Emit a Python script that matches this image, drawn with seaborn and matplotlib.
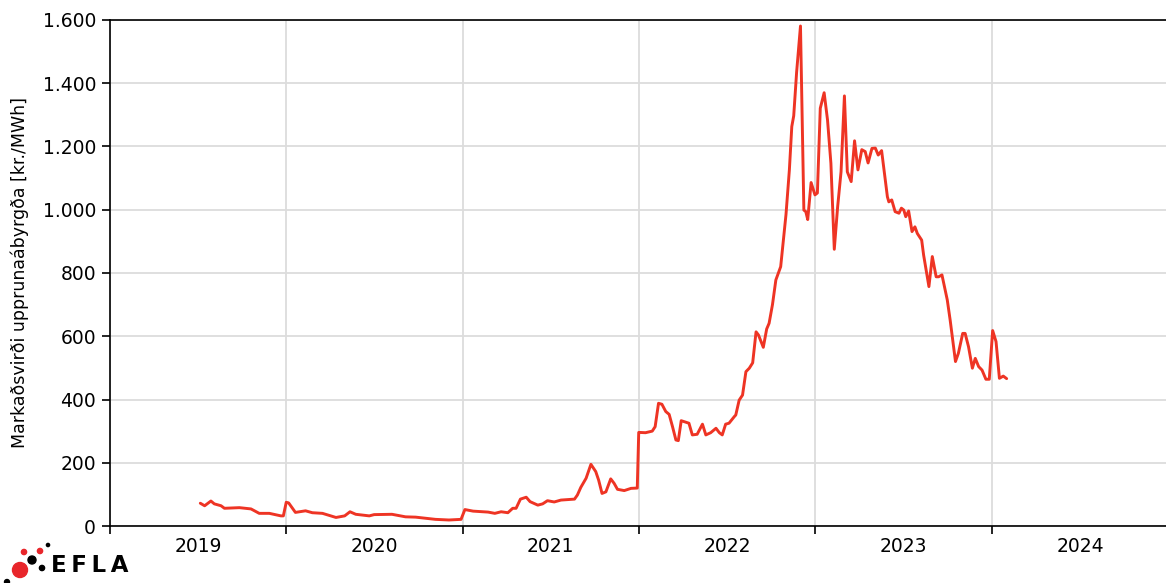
import matplotlib
matplotlib.use("Agg")
import matplotlib.pyplot as plt
import matplotlib.dates as mdates
from matplotlib.ticker import FuncFormatter, NullFormatter
import seaborn as sns
import pandas as pd

dates = [
    "2019-07-07", "2019-07-16", "2019-07-29", "2019-08-05", "2019-08-19", "2019-08-26",
    "2019-09-26", "2019-10-20", "2019-11-06", "2019-11-27", "2019-12-21", "2019-12-26",
    "2020-01-01", "2020-01-06", "2020-01-20", "2020-02-10", "2020-02-24", "2020-03-16",
    "2020-04-13", "2020-05-01", "2020-05-12", "2020-05-24", "2020-06-21", "2020-07-01",
    "2020-08-07", "2020-09-04", "2020-09-25", "2020-11-05", "2020-12-03", "2020-12-28",
    "2021-01-05", "2021-01-22", "2021-02-12", "2021-02-22", "2021-03-08", "2021-03-21",
    "2021-04-04", "2021-04-14", "2021-04-21", "2021-04-30", "2021-05-12", "2021-05-20",
    "2021-06-05", "2021-06-15", "2021-06-25", "2021-07-09", "2021-07-23", "2021-08-20",
    "2021-08-26", "2021-09-02", "2021-09-13", "2021-09-23", "2021-10-03", "2021-10-09",
    "2021-10-16", "2021-10-24", "2021-11-03", "2021-11-10", "2021-11-17", "2021-12-01",
    "2021-12-15", "2021-12-28", "2021-12-31", "2022-01-14", "2022-01-28", "2022-02-03",
    "2022-02-10", "2022-02-17", "2022-02-25", "2022-03-04", "2022-03-11", "2022-03-18",
    "2022-03-23", "2022-03-29", "2022-04-08", "2022-04-14", "2022-04-21", "2022-05-01",
    "2022-05-12", "2022-05-19", "2022-05-29", "2022-06-09", "2022-06-16", "2022-06-22",
    "2022-06-29", "2022-07-06", "2022-07-17", "2022-07-20", "2022-07-27", "2022-08-03",
    "2022-08-10", "2022-08-17", "2022-08-24", "2022-08-31", "2022-09-05", "2022-09-15",
    "2022-09-22", "2022-09-27", "2022-10-04", "2022-10-11", "2022-10-21", "2022-11-01",
    "2022-11-08", "2022-11-13", "2022-11-17", "2022-11-23", "2022-12-01", "2022-12-08",
    "2022-12-12", "2022-12-16", "2022-12-23", "2022-12-31", "2023-01-05", "2023-01-11",
    "2023-01-19", "2023-01-26", "2023-02-02", "2023-02-09", "2023-02-16", "2023-02-23",
    "2023-03-02", "2023-03-08", "2023-03-16", "2023-03-23", "2023-03-30", "2023-04-07",
    "2023-04-14", "2023-04-20", "2023-04-28", "2023-05-05", "2023-05-11", "2023-05-18",
    "2023-05-30", "2023-06-02", "2023-06-08", "2023-06-15", "2023-06-23", "2023-06-28",
    "2023-07-03", "2023-07-07", "2023-07-13", "2023-07-20", "2023-07-26", "2023-07-31",
    "2023-08-09", "2023-08-13", "2023-08-24", "2023-08-31", "2023-09-08", "2023-09-13",
    "2023-09-20", "2023-10-01", "2023-10-07", "2023-10-18", "2023-10-24", "2023-11-02",
    "2023-11-07", "2023-11-14", "2023-11-22", "2023-11-28", "2023-12-05", "2023-12-12",
    "2023-12-20", "2023-12-27", "2024-01-03", "2024-01-10", "2024-01-17", "2024-01-25",
    "2024-02-01",
]

values = [
    72, 64, 79, 70, 64, 56,
    58, 54, 40, 40, 32, 32,
    75, 73, 43, 48, 42, 40,
    27, 32, 45, 37, 32, 36,
    37, 29, 28, 21, 19, 21,
    52, 47, 45, 44, 40, 45,
    42, 56, 56, 85, 91, 77,
    66, 70, 80, 76, 82, 85,
    98, 122, 151, 195, 172, 145,
    103, 108, 149, 135, 116, 112,
    119, 120, 296, 295, 300, 314,
    388, 385, 362, 353, 314, 272,
    270, 333, 328, 325, 288, 290,
    322, 288, 295, 309, 295, 288,
    322, 325, 346, 351, 398, 414,
    488, 499, 516, 614, 604, 565,
    623, 641, 700, 778, 820, 985,
    1126, 1263, 1297, 1435, 1581, 999,
    994, 969, 1086, 1047, 1053, 1321,
    1370, 1284, 1147, 875, 1010, 1120,
    1360, 1120, 1089, 1218, 1126, 1190,
    1184, 1148, 1194, 1195, 1173, 1187,
    1041, 1025, 1031, 994, 989, 1005,
    999, 978, 996, 931, 946, 925,
    904, 857, 757, 852, 788, 788,
    794, 715, 651, 520, 546, 609,
    609, 567, 499, 530, 504, 493,
    464, 464, 618, 583, 467, 474,
    466,
]

year_labels = ["2019", "2020", "2021", "2022", "2023", "2024"]
y_ticks = [0, 200, 400, 600, 800, 1000, 1200, 1400, 1600]
y_label = "Markaðsvirði upprunaábyrgða [kr./MWh]"

df = pd.DataFrame({"date": pd.to_datetime(dates), "value": values})

sns.set_style("ticks")
plt.rcParams["font.family"] = ["DejaVu Sans"]
plt.rcParams["text.color"] = "black"
plt.rcParams["axes.labelcolor"] = "black"
plt.rcParams["xtick.color"] = "black"
plt.rcParams["ytick.color"] = "black"

fig = plt.figure(figsize=(11.66, 5.83), dpi=100)
ax = fig.add_axes([110 / 1166, 1 - 526 / 583, 1 - 110 / 1166, (526 - 20) / 583])

sns.lineplot(data=df, x="date", y="value", ax=ax, color="#EE3424",
             linewidth=2.1, estimator=None)

ax.set_xlim(pd.Timestamp("2019-01-01"), pd.Timestamp("2024-12-27"))
ax.set_ylim(0, 1600)

# major ticks at year boundaries (no labels), minor at mid-year (labels)
ax.xaxis.set_major_locator(mdates.YearLocator())
ax.xaxis.set_major_formatter(NullFormatter())
mid_years = [pd.Timestamp(f"{y}-07-02") for y in year_labels]
ax.set_xticks(mid_years, minor=True)
ax.set_xticklabels(year_labels, minor=True)
ax.tick_params(axis="x", which="minor", length=0, labelsize=13.5, pad=8,
               labelcolor="black")
ax.tick_params(axis="x", which="major", length=6, width=1.2, direction="out", color="black")

ax.set_yticks(y_ticks)
ax.yaxis.set_major_formatter(FuncFormatter(lambda v, p: f"{int(v):,}".replace(",", ".")))
ax.tick_params(axis="y", length=6, width=1.2, labelsize=13.5, pad=4,
               color="black", labelcolor="black")

ax.grid(True, which="major", color="#dcdcdc", linewidth=1.3)
ax.set_axisbelow(True)

ax.set_xlabel("")
ax.set_ylabel(y_label, fontsize=12.5, labelpad=10, color="black")

for side in ["left", "bottom", "top"]:
    ax.spines[side].set_visible(True)
    ax.spines[side].set_color("black")
    ax.spines[side].set_linewidth(1.2)
ax.spines["right"].set_visible(False)

# EFLA logo
def px(x, y):
    return x / 1166, 1 - y / 583

logo_dots = [
    (20, 570, 7.5, "#E8262B"),
    (24, 552, 2.6, "#E8262B"),
    (40, 551, 2.6, "#E8262B"),
    (32, 560, 4.0, "black"),
    (42, 568, 2.6, "black"),
    (48, 545, 1.6, "black"),
    (7, 582, 2.5, "black"),
]
for x, y, r, c in logo_dots:
    cx, cy = px(x, y)
    circ = matplotlib.patches.Ellipse((cx, cy), 2 * r / 1166, 2 * r / 583,
                                      transform=fig.transFigure, color=c, zorder=5)
    fig.patches.append(circ)
tx, ty = px(51, 565)
fig.text(tx, ty, "E\u2009F\u2009L\u2009A", fontsize=16.5, fontweight="heavy",
         va="center", ha="left", color="black", family="DejaVu Sans")

fig.savefig("out.png", dpi=100)
